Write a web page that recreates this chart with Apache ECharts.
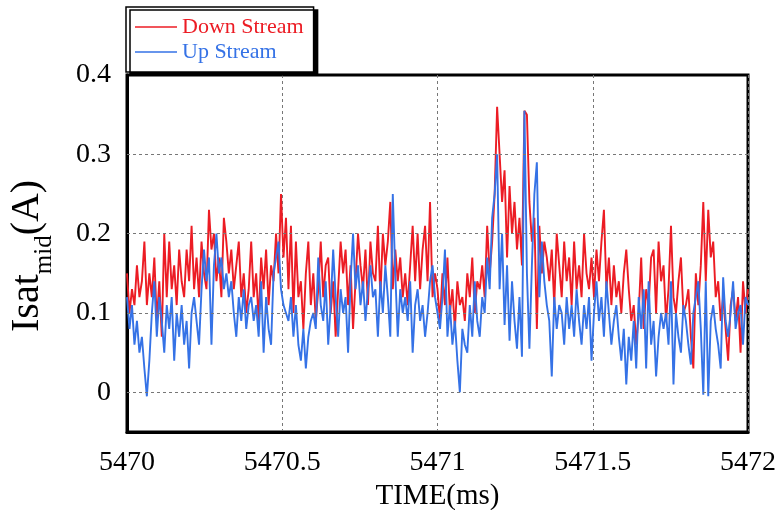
<!DOCTYPE html>
<html>
<head>
<meta charset="utf-8">
<script src="https://cdn.jsdelivr.net/npm/echarts@6/dist/echarts.min.js"></script>
<style>html,body{margin:0;padding:0;background:#fff}#c{width:780px;height:510px}</style>
</head>
<body>
<div id="c"></div>
<script>
// ---- data ----
const timeStart = 5470;
const timeStep = 0.008; // ms per sample
const xTicks = [5470, 5470.5, 5471, 5471.5, 5472];
const yTicks = [0, 0.1, 0.2, 0.3, 0.4];
const yGridValues = [0, 0.1, 0.2, 0.3];
const downStream = [
  0.15, 0.10, 0.13, 0.11, 0.16, 0.12, 0.14, 0.19, 0.11, 0.15, 0.12, 0.17, 0.09, 0.14, 0.07, 0.20, 0.12, 0.19, 0.13, 0.16, 0.11, 0.18, 0.14, 0.12, 0.18,
  0.14, 0.21, 0.13, 0.17, 0.12, 0.19, 0.15, 0.13, 0.23, 0.18, 0.20, 0.14, 0.17, 0.12, 0.22, 0.19, 0.15, 0.18, 0.13, 0.16, 0.19, 0.12, 0.15, 0.10, 0.13,
  0.19, 0.12, 0.15, 0.09, 0.17, 0.13, 0.18, 0.11, 0.16, 0.14, 0.20, 0.15, 0.25, 0.17, 0.22, 0.13, 0.21, 0.10, 0.19, 0.12, 0.14, 0.08, 0.15, 0.19, 0.11,
  0.15, 0.09, 0.13, 0.19, 0.12, 0.16, 0.17, 0.10, 0.14, 0.07, 0.13, 0.19, 0.15, 0.18, 0.11, 0.16, 0.08, 0.14, 0.20, 0.16, 0.13, 0.18, 0.11, 0.19, 0.15,
  0.14, 0.21, 0.12, 0.20, 0.16, 0.19, 0.24, 0.13, 0.18, 0.14, 0.17, 0.12, 0.15, 0.11, 0.16, 0.21, 0.14, 0.20, 0.13, 0.18, 0.21, 0.14, 0.24, 0.12, 0.15,
  0.13, 0.09, 0.15, 0.11, 0.17, 0.10, 0.13, 0.08, 0.14, 0.11, 0.12, 0.09, 0.15, 0.12, 0.17, 0.10, 0.14, 0.13, 0.16, 0.12, 0.21, 0.15, 0.19, 0.25, 0.36,
  0.30, 0.24, 0.28, 0.17, 0.26, 0.20, 0.24, 0.18, 0.22, 0.16, 0.355, 0.35, 0.24, 0.19, 0.22, 0.08, 0.21, 0.15, 0.19, 0.17, 0.14, 0.18, 0.11, 0.20, 0.16,
  0.12, 0.19, 0.14, 0.17, 0.11, 0.19, 0.13, 0.16, 0.12, 0.20, 0.15, 0.13, 0.17, 0.12, 0.18, 0.14, 0.19, 0.23, 0.13, 0.17, 0.11, 0.16, 0.12, 0.14, 0.10,
  0.15, 0.18, 0.13, 0.09, 0.11, 0.06, 0.10, 0.17, 0.08, 0.13, 0.11, 0.17, 0.18, 0.10, 0.19, 0.14, 0.16, 0.09, 0.13, 0.21, 0.12, 0.10, 0.14, 0.17, 0.10,
  0.11, 0.13, 0.07, 0.03, 0.15, 0.11, 0.16, 0.24, 0.14, 0.23, 0.17, 0.19, 0.12, 0.14, 0.09, 0.12, 0.08, 0.04, 0.11, 0.13, 0.09, 0.12, 0.05, 0.14, 0.10, 0.13
];
const upStream = [
  0.12, 0.08, 0.11, 0.06, 0.09, 0.05, 0.07, 0.03, -0.005, 0.04, 0.10, 0.14, 0.07, 0.12, 0.09, 0.05, 0.11, 0.08, 0.12, 0.04, 0.10, 0.07, 0.11, 0.06, 0.09,
  0.03, 0.10, 0.12, 0.09, 0.06, 0.13, 0.18, 0.14, 0.17, 0.06, 0.16, 0.20, 0.15, 0.17, 0.13, 0.15, 0.12, 0.14, 0.10, 0.07, 0.12, 0.09, 0.13, 0.08, 0.11,
  0.12, 0.09, 0.11, 0.07, 0.14, 0.05, 0.12, 0.08, 0.06, 0.15, 0.17, 0.19, 0.13, 0.11, 0.10, 0.09, 0.12, 0.07, 0.11, 0.06, 0.04, 0.08, 0.03, 0.07, 0.09,
  0.10, 0.08, 0.17, 0.11, 0.09, 0.14, 0.06, 0.11, 0.18, 0.12, 0.07, 0.13, 0.10, 0.12, 0.05, 0.14, 0.20, 0.13, 0.16, 0.11, 0.14, 0.09, 0.13, 0.16, 0.12,
  0.13, 0.07, 0.14, 0.10, 0.16, 0.12, 0.07, 0.25, 0.15, 0.07, 0.13, 0.10, 0.12, 0.09, 0.14, 0.05, 0.11, 0.13, 0.09, 0.11, 0.07, 0.10, 0.14, 0.16, 0.12,
  0.10, 0.08, 0.12, 0.18, 0.07, 0.11, 0.06, 0.09, 0.04, 0.00, 0.08, 0.06, 0.05, 0.11, 0.07, 0.14, 0.09, 0.07, 0.12, 0.10, 0.17, 0.13, 0.22, 0.25, 0.30,
  0.13, 0.20, 0.085, 0.16, 0.065, 0.14, 0.09, 0.055, 0.12, 0.045, 0.355, 0.15, 0.055, 0.16, 0.25, 0.29, 0.12, 0.19, 0.14, 0.11, 0.09, 0.02, 0.12, 0.08, 0.11,
  0.10, 0.06, 0.12, 0.08, 0.11, 0.07, 0.13, 0.09, 0.06, 0.11, 0.08, 0.12, 0.04, 0.10, 0.14, 0.09, 0.12, 0.07, 0.14, 0.10, 0.06, 0.09, 0.11, 0.07, 0.04,
  0.08, 0.01, 0.07, 0.04, 0.09, 0.03, 0.12, 0.08, 0.13, 0.03, 0.14, 0.06, 0.09, 0.02, 0.07, 0.10, 0.08, 0.10, 0.06, 0.14, 0.01, 0.10, 0.07, 0.05, 0.11,
  0.09, 0.06, 0.035, 0.10, 0.12, 0.14, 0.08, -0.003, 0.14, -0.005, 0.09, 0.11, 0.08, 0.06, 0.03, 0.145, 0.09, 0.07, 0.10, 0.14, 0.08, 0.10, 0.11, 0.06, 0.12, 0.11
];
const seriesNames = ['Down Stream', 'Up Stream'];
const seriesColors = ['#ec1c24', '#3572e6'];

// ---- build ----
const toPairs = arr => arr.map((v, i) => [+(timeStart + i * timeStep).toFixed(4), v]);
const FONT = '"Liberation Serif", "Times New Roman", serif';

const chart = echarts.init(document.getElementById('c'), null, {renderer: 'canvas'});

// measure y-title pieces
const mctx = document.createElement('canvas').getContext('2d');
const yMainSize = 40, ySubSize = 25;
mctx.font = yMainSize + 'px "Liberation Serif"';
const wIsat = mctx.measureText('Isat').width;
mctx.font = ySubSize + 'px "Liberation Serif"';
const wMid = mctx.measureText('mid').width;

const isTick = v => yTicks.some(t => Math.abs(t - v) < 1e-6);
const frameLine = {show: true, onZero: false, lineStyle: {color: '#000', width: 3}};

chart.setOption({
  animation: false,
  backgroundColor: '#fff',
  grid: {left: 127, right: 32, top: 75, bottom: 78, show: true, borderColor: '#000', borderWidth: 3,
    backgroundColor: 'transparent', containLabel: false, outerBoundsMode: 'none'},
  legend: {
    left: 126, top: 7, orient: 'vertical',
    icon: 'rect', itemWidth: 42, itemHeight: 1.5, itemGap: 3,
    padding: [9, 10, 9, 9],
    backgroundColor: '#fff', borderColor: '#000', borderWidth: 1.5,
    shadowColor: '#000', shadowOffsetX: 4, shadowOffsetY: 3, shadowBlur: 0,
    textStyle: {fontFamily: FONT, fontSize: 22, lineHeight: 20},
    data: seriesNames.map((n, i) => ({name: n, textStyle: {color: seriesColors[i]}}))
  },
  xAxis: {
    type: 'value', min: xTicks[0], max: xTicks[xTicks.length - 1], interval: 0.5,
    axisLine: frameLine, axisTick: {show: false},
    axisLabel: {color: '#000', fontFamily: FONT, fontSize: 28, margin: 17,
      formatter: v => String(+v.toFixed(1))},
    splitLine: {show: true, lineStyle: {color: '#777', type: [3, 3], width: 1}},
    name: 'TIME(ms)', nameLocation: 'middle', nameGap: 45,
    nameTextStyle: {color: '#000', fontFamily: FONT, fontSize: 29}
  },
  yAxis: {
    type: 'value', min: -0.05, max: 0.4, interval: 0.05,
    axisLine: frameLine, axisTick: {show: false},
    splitLine: {show: false},
    axisLabel: {color: '#000', fontFamily: FONT, fontSize: 28, margin: 16,
      showMaxLabel: true,
      formatter: v => isTick(v) ? String(+v.toFixed(1)) : ''}
  },
  graphic: [{
    type: 'group', x: 27, y: 332, rotation: Math.PI / 2,
    children: [
      {type: 'text', x: 0, y: 0, style: {text: 'Isat', font: yMainSize + 'px "Liberation Serif"', fill: '#000', textAlign: 'left', textVerticalAlign: 'middle'}},
      {type: 'text', x: wIsat, y: 17, style: {text: 'mid', font: ySubSize + 'px "Liberation Serif"', fill: '#000', textAlign: 'left', textVerticalAlign: 'middle'}},
      {type: 'text', x: wIsat + wMid, y: 0, style: {text: '(A)', font: yMainSize + 'px "Liberation Serif"', fill: '#000', textAlign: 'left', textVerticalAlign: 'middle'}}
    ]
  }],
  series: [
    {
      name: 'gridlines', type: 'line', data: [], z: 1, silent: true,
      markLine: {silent: true, symbol: 'none', animation: false, label: {show: false},
        lineStyle: {color: '#777', type: [3, 3], width: 1},
        data: yGridValues.map(v => ({yAxis: v}))}
    },
    {
      name: seriesNames[0], type: 'line', data: toPairs(downStream), z: 3,
      symbol: 'none', showSymbol: false, color: seriesColors[0],
      lineStyle: {color: seriesColors[0], width: 1.9}
    },
    {
      name: seriesNames[1], type: 'line', data: toPairs(upStream), z: 4,
      symbol: 'none', showSymbol: false, color: seriesColors[1],
      lineStyle: {color: seriesColors[1], width: 1.9}
    }
  ]
});
</script>
</body>
</html>
